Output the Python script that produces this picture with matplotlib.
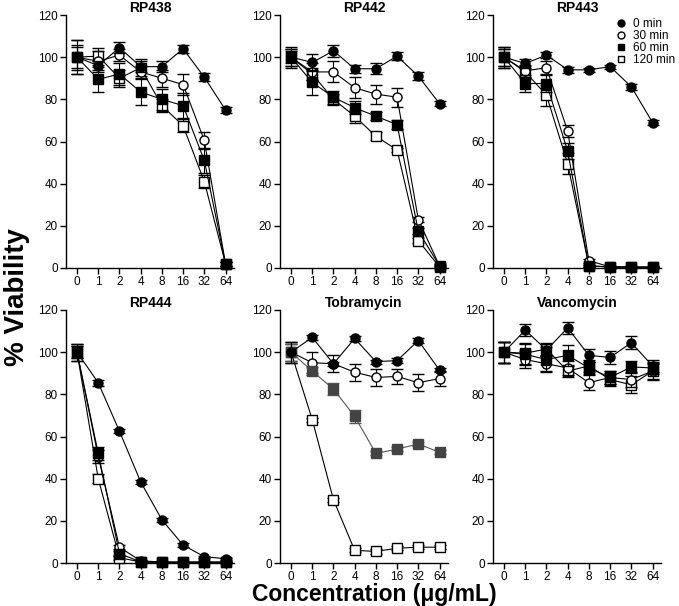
import matplotlib
matplotlib.use("Agg")
import matplotlib.pyplot as plt
from matplotlib.lines import Line2D
import numpy as np

plt.rcParams['font.family'] = ['Liberation Sans', 'DejaVu Sans']

conc_labels = ["0", "1", "2", "4", "8", "16", "32", "64"]
series_labels = ["0 min", "30 min", "60 min", "120 min"]
panel_titles = ["RP438", "RP442", "RP443", "RP444", "Tobramycin", "Vancomycin"]

# viability values: [0 min, 30 min, 60 min, 120 min]
rp438 = [[100, 96, 104.5, 95.5, 95.5, 104, 90.5, 75],
         [100, 98, 101, 93, 90, 87, 60.5, 2],
         [100, 89.5, 92, 83.5, 80, 77, 51, 2],
         [100, 100.5, 90, 95, 77, 67.5, 41, 2]]
rp438_err = [[8, 2, 2.5, 2.5, 2.5, 2, 2, 1.5],
             [6, 5, 3, 3, 4, 5, 4, 1],
             [5, 6, 5, 6, 5, 6, 6, 1],
             [8, 4, 4, 4, 3, 3, 3, 1]]

rp442 = [[100, 97.5, 103, 94.5, 94.5, 100.5, 91, 78],
         [100, 93, 93, 85.5, 82.5, 81, 23, 1],
         [100, 88, 81, 76, 72, 68, 17.5, 1],
         [100, 92, 80, 72, 62.5, 56, 13, 0.5]]
rp442_err = [[5, 4, 3, 2, 2.5, 2, 2, 1],
             [4, 4, 5, 5, 4.5, 4.5, 1, 1],
             [4, 6, 3, 3, 2, 2, 1.5, 0.5],
             [3, 3, 2.5, 3, 2, 1, 1, 0.5]]

rp443 = [[100, 97, 101, 94, 94, 95.5, 86, 69],
         [100, 93.5, 95, 65, 3.5, 0.5, 0.5, 0.5],
         [100, 87.5, 87.5, 55.5, 1, 0.5, 0.5, 0.3],
         [100, 93, 82, 49.5, 1, 0.5, 0.3, 0.3]]
rp443_err = [[5, 2, 1.5, 1.5, 1, 1, 1.5, 1],
             [4, 3, 3, 3, 1, 0.3, 0.3, 0.3],
             [4, 4, 4, 4, 0.5, 0.3, 0.3, 0.3],
             [5, 3, 5, 5, 0.5, 0.3, 0.3, 0.3]]

rp444 = [[100, 85.5, 62.5, 38.5, 20.5, 8.5, 3, 2],
         [100, 50.5, 7.5, 1, 0.5, 0.5, 0.5, 0.5],
         [100, 52, 4.5, 0.5, 0.3, 0.3, 0.3, 0.3],
         [100, 40, 2.5, 0.5, 0.3, 0.3, 0.3, 0.3]]
rp444_err = [[3, 1.5, 1, 1, 1, 1, 0.5, 0.5],
             [4, 3, 1, 0.5, 0.3, 0.3, 0.3, 0.3],
             [4, 3, 1, 0.5, 0.3, 0.3, 0.3, 0.3],
             [3, 2, 1, 0.5, 0.3, 0.3, 0.3, 0.3]]

tobra = [[100, 107, 94.5, 106.5, 95.5, 96, 105.5, 91.5],
         [100, 95, 94.5, 90.5, 88, 88.5, 85.5, 87.5],
         [100, 91, 82.5, 69.5, 52, 54, 56.5, 52.5],
         [100, 68, 30, 6, 5.5, 7, 7.5, 7.5]]
tobra_err = [[5, 1, 1, 1, 1, 1, 1, 1],
             [5, 5, 4, 4, 4, 3.5, 4, 3.5],
             [4, 2, 3, 3, 1, 1, 1, 1],
             [4, 1, 1, 1, 1, 1, 1, 1]]

vanco = [[100, 110.5, 101, 111.5, 98.5, 97.5, 104.5, 93.5],
         [100, 96.5, 94.5, 92.5, 85.5, 88, 87, 91],
         [100, 99, 96.5, 98.5, 92.5, 88, 93, 92.5],
         [100, 99.5, 101.5, 91, 93.5, 87, 84.5, 91]]
vanco_err = [[5, 3, 3, 3, 3, 3, 3, 3],
             [5, 4, 3.5, 3.5, 3.5, 3, 3.5, 3.5],
             [5, 5, 6, 5, 3, 3, 3, 3],
             [5, 5, 3, 3, 3, 3, 4, 4]]

panels = [(rp438, rp438_err), (rp442, rp442_err), (rp443, rp443_err),
          (rp444, rp444_err), (tobra, tobra_err), (vanco, vanco_err)]

W, H = 679, 606
fig = plt.figure(figsize=(W / 100, H / 100), dpi=100)

lefts = [66, 280, 493]
tops_bottoms = [(15, 268), (310, 563)]
ax_w = 168

styles = [dict(marker='o', mfc='black', mec='black'),
          dict(marker='o', mfc='white', mec='black'),
          dict(marker='s', mfc='black', mec='black'),
          dict(marker='s', mfc='white', mec='black')]
draw_order = [3, 1, 2, 0]

x = np.arange(len(conc_labels))
for i, (vals, errs) in enumerate(panels):
    r, c = divmod(i, 3)
    top, bot = tops_bottoms[r]
    ax = fig.add_axes([lefts[c] / W, (H - bot) / H, ax_w / W, (bot - top) / H])
    for s in draw_order:
        st = dict(styles[s])
        lc = 'black'
        if i == 4 and s == 2:
            st['mfc'] = '#444444'
            st['mec'] = '#444444'
            lc = '#555555'
        ax.errorbar(x, vals[s], yerr=errs[s], color=lc, lw=0.8, ms=6.5,
                    mew=1.0, capsize=4.5, elinewidth=0.8, capthick=0.8,
                    ecolor=lc, clip_on=False, zorder=3 + draw_order.index(s),
                    **st)
    ax.set_xlim(-0.52, 7.4)
    ax.set_ylim(0, 120)
    ax.set_yticks(range(0, 121, 20))
    ax.set_xticks(x)
    ax.set_xticklabels(conc_labels)
    for sp in ['top', 'right']:
        ax.spines[sp].set_visible(False)
    for sp in ['left', 'bottom']:
        ax.spines[sp].set_linewidth(1.0)
    ax.tick_params(direction='out', length=4, width=1.0, labelsize=8.5, pad=2)
    ax.set_title(panel_titles[i], fontsize=10, fontweight='bold', pad=2.5)

handles = [Line2D([], [], linestyle='none', ms=5, mew=1.0, **styles[s]) for s in range(4)]
fig.legend(handles, series_labels, loc='upper left',
           bbox_to_anchor=(617.5 / W, (H - 18) / H), frameon=False,
           fontsize=8.5, handlelength=0.6, handletextpad=0.7,
           labelspacing=0.0, borderpad=0, borderaxespad=0)

fig.text(17 / W, (H - 297) / H, "% Viability", rotation=90, ha='center',
         va='center', fontsize=20, fontweight='bold')
fig.text(374 / W, (H - 601) / H, "Concentration (\u03bcg/mL)", ha='center',
         va='baseline', fontsize=16.5, fontweight='bold')

fig.savefig("out.png", dpi=100)
